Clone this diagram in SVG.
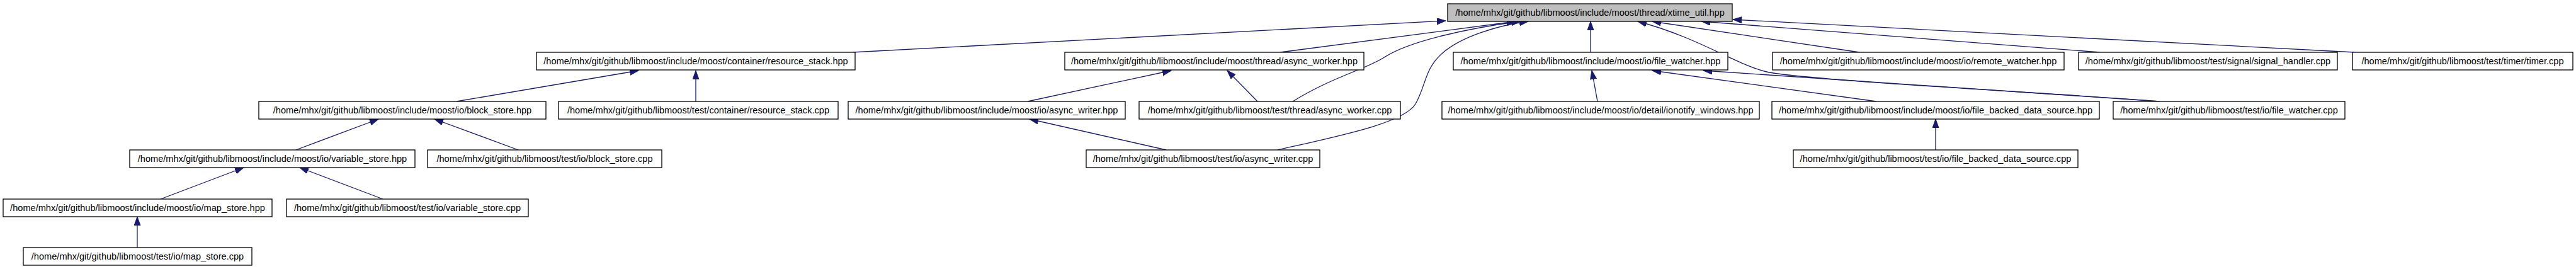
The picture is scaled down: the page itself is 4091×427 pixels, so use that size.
<svg xmlns="http://www.w3.org/2000/svg" width="4091" height="427" viewBox="0 0 4091 427">
<style>
.n rect{fill:#ffffff;stroke:#000000;stroke-width:1.3}
.n.root rect{fill:#bfbfbf}
.n text{font-family:"Liberation Sans",Arial,sans-serif;font-size:14.6px;fill:#000000;text-anchor:middle}
.e path{fill:none;stroke:#191970;stroke-width:1.3;marker-end:url(#ah)}
</style>
<defs>
<marker id="ah" markerUnits="userSpaceOnUse" markerWidth="15" markerHeight="11" refX="14" refY="5" orient="auto">
<path d="M0,0 L14,5 L0,10 z" fill="#191970" stroke="#191970" stroke-width="1"/>
</marker>
</defs>
<rect width="4091" height="427" fill="#ffffff"/>
<g id="edges" class="e">
<path d="M1354,83 L2296,33"/>
<path d="M2033,83 L2407,34"/>
<path d="M2053,161 C2120,120 2170,110 2200,90 C2240,65 2330,45 2414,34"/>
<path d="M2029,238 C2130,215 2230,195 2248,165 C2265,135 2262,110 2290,85 C2320,58 2380,40 2427,34"/>
<path d="M2526,83 L2526,34"/>
<path d="M3430,161 C3300,150 2900,130 2810,115 C2760,105 2700,60 2601,34"/>
<path d="M2953,83 L2624,34"/>
<path d="M3335,83 L2702,34"/>
<path d="M3739,83 L2752,31"/>
<path d="M725,161 L1014,112"/>
<path d="M1105,161 L1105,112"/>
<path d="M1632,161 L1860,112"/>
<path d="M1997,161 L1949,112"/>
<path d="M2537,161 L2528,112"/>
<path d="M2980,161 L2624,112"/>
<path d="M3430,161 L2705,112"/>
<path d="M470,238 L601,189"/>
<path d="M823,238 L690,189"/>
<path d="M1852,238 L1635,189"/>
<path d="M3074,238 L3074,189"/>
<path d="M255,316 L387,266"/>
<path d="M608,316 L476,266"/>
<path d="M218,393 L218,344"/>
</g>
<g id="node_root" class="n root"><rect x="2299" y="6" width="452" height="28"/><text x="2525" y="25">/home/mhx/git/github/libmoost/include/moost/thread/xtime_util.hpp</text></g>
<g id="node_resource_stack_hpp" class="n"><rect x="852" y="83" width="506" height="28"/><text x="1105" y="102">/home/mhx/git/github/libmoost/include/moost/container/resource_stack.hpp</text></g>
<g id="node_async_worker_hpp" class="n"><rect x="1691" y="83" width="475" height="28"/><text x="1928.5" y="102">/home/mhx/git/github/libmoost/include/moost/thread/async_worker.hpp</text></g>
<g id="node_file_watcher_hpp" class="n"><rect x="2308" y="83" width="436" height="28"/><text x="2526" y="102">/home/mhx/git/github/libmoost/include/moost/io/file_watcher.hpp</text></g>
<g id="node_remote_watcher_hpp" class="n"><rect x="2815" y="83" width="463" height="28"/><text x="3046.5" y="102">/home/mhx/git/github/libmoost/include/moost/io/remote_watcher.hpp</text></g>
<g id="node_signal_handler_cpp" class="n"><rect x="3301" y="83" width="411" height="28"/><text x="3506.5" y="102">/home/mhx/git/github/libmoost/test/signal/signal_handler.cpp</text></g>
<g id="node_timer_cpp" class="n"><rect x="3736" y="83" width="350" height="28"/><text x="3911" y="102">/home/mhx/git/github/libmoost/test/timer/timer.cpp</text></g>
<g id="node_block_store_hpp" class="n"><rect x="411" y="161" width="456" height="28"/><text x="639" y="180">/home/mhx/git/github/libmoost/include/moost/io/block_store.hpp</text></g>
<g id="node_resource_stack_cpp" class="n"><rect x="887" y="161" width="444" height="28"/><text x="1109" y="180">/home/mhx/git/github/libmoost/test/container/resource_stack.cpp</text></g>
<g id="node_async_writer_hpp" class="n"><rect x="1347" y="161" width="440" height="28"/><text x="1567" y="180">/home/mhx/git/github/libmoost/include/moost/io/async_writer.hpp</text></g>
<g id="node_async_worker_cpp" class="n"><rect x="1809" y="161" width="415" height="28"/><text x="2016.5" y="180">/home/mhx/git/github/libmoost/test/thread/async_worker.cpp</text></g>
<g id="node_ionotify_windows_hpp" class="n"><rect x="2290" y="161" width="504" height="28"/><text x="2542" y="180">/home/mhx/git/github/libmoost/include/moost/io/detail/ionotify_windows.hpp</text></g>
<g id="node_file_backed_data_source_hpp" class="n"><rect x="2814" y="161" width="520" height="28"/><text x="3074" y="180">/home/mhx/git/github/libmoost/include/moost/io/file_backed_data_source.hpp</text></g>
<g id="node_file_watcher_cpp" class="n"><rect x="3356" y="161" width="368" height="28"/><text x="3540" y="180">/home/mhx/git/github/libmoost/test/io/file_watcher.cpp</text></g>
<g id="node_variable_store_hpp" class="n"><rect x="206" y="238" width="453" height="28"/><text x="432.5" y="257">/home/mhx/git/github/libmoost/include/moost/io/variable_store.hpp</text></g>
<g id="node_block_store_cpp" class="n"><rect x="679" y="238" width="372" height="28"/><text x="865" y="257">/home/mhx/git/github/libmoost/test/io/block_store.cpp</text></g>
<g id="node_async_writer_cpp" class="n"><rect x="1725" y="238" width="371" height="28"/><text x="1910.5" y="257">/home/mhx/git/github/libmoost/test/io/async_writer.cpp</text></g>
<g id="node_file_backed_data_source_cpp" class="n"><rect x="2848" y="238" width="452" height="28"/><text x="3074" y="257">/home/mhx/git/github/libmoost/test/io/file_backed_data_source.cpp</text></g>
<g id="node_map_store_hpp" class="n"><rect x="5" y="316" width="427" height="28"/><text x="218.5" y="335">/home/mhx/git/github/libmoost/include/moost/io/map_store.hpp</text></g>
<g id="node_variable_store_cpp" class="n"><rect x="455" y="316" width="384" height="28"/><text x="647" y="335">/home/mhx/git/github/libmoost/test/io/variable_store.cpp</text></g>
<g id="node_map_store_cpp" class="n"><rect x="37" y="393" width="363" height="28"/><text x="218.5" y="412">/home/mhx/git/github/libmoost/test/io/map_store.cpp</text></g>
</svg>
